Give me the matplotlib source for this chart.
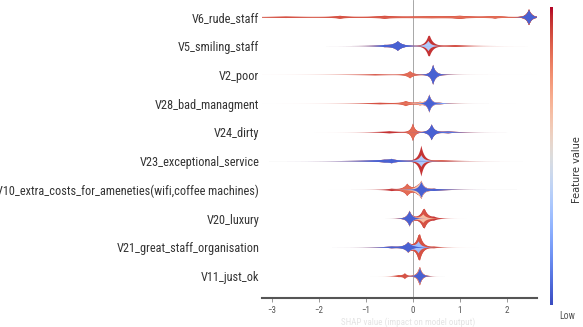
import numpy as np
import matplotlib
matplotlib.use("Agg")
import matplotlib.pyplot as plt

features = ["V6_rude_staff", "V5_smiling_staff", "V2_poor", "V28_bad_managment",
            "V24_dirty", "V23_exceptional_service",
            "V10_extra_costs_for_ameneties(wifi,coffee machines)",
            "V20_luxury", "V21_great_staff_organisation", "V11_just_ok"]
xticks = [-3, -2, -1, 0, 1, 2]

# density components: feature index, SHAP centre, spread, half-height, feature value
comp_feature = [0, 0, 0, 0, 0, 0, 0, 0,
                 1, 1, 1, 1, 1,
                 2, 2, 2, 2,
                 3, 3, 3, 3, 3,
                 4, 4, 4, 4,
                 5, 5, 5, 5, 5,
                 6, 6, 6, 6, 6,
                 7, 7, 7, 7,
                 8, 8, 8, 8, 8,
                 9, 9, 9, 9]
comp_mu = [0.0, -2.7, -1.55, -0.6, 0.4, 1.0, 1.75, 2.47,
           -0.32, -0.6, 0.33, 0.36, 0.9,
           -0.06, -0.8, 0.43, 0.5,
           -0.15, -0.7, 0.35, 0.55, 0.15,
           0.0, -0.5, 0.4, 0.75,
           -0.6, -0.45, 0.18, 0.18, 0.6,
           -0.12, -0.45, 0.18, 0.45, 0.1,
           -0.07, 0.25, 0.22, 0.45,
           -0.1, -0.45, 0.12, 0.15, 0.45,
           -0.17, -0.3, 0.15, 0.13]
comp_spread = [2.5, 0.5, 0.15, 0.2, 0.6, 0.2, 0.2, 0.06,
               0.1, 0.2, 0.06, 0.08, 0.25,
               0.08, 0.5, 0.05, 0.15,
               0.1, 0.4, 0.05, 0.15, 0.1,
               0.05, 0.25, 0.06, 0.2,
               0.35, 0.1, 0.06, 0.07, 0.25,
               0.08, 0.15, 0.06, 0.2, 0.1,
               0.06, 0.08, 0.07, 0.1,
               0.08, 0.2, 0.06, 0.07, 0.15,
               0.05, 0.08, 0.05, 0.06]
comp_height = [0.02, 0.02, 0.04, 0.035, 0.02, 0.035, 0.03, 0.27,
               0.16, 0.03, 0.18, 0.25, 0.03,
               0.12, 0.025, 0.33, 0.03,
               0.08, 0.03, 0.30, 0.03, 0.05,
               0.30, 0.04, 0.27, 0.035,
               0.04, 0.05, 0.20, 0.33, 0.03,
               0.20, 0.04, 0.27, 0.035, 0.08,
               0.27, 0.24, 0.15, 0.05,
               0.17, 0.03, 0.20, 0.33, 0.03,
               0.10, 0.03, 0.28, 0.06]
comp_value = [0.9, 0.9, 0.9, 0.9, 0.85, 0.85, 0.85, 0.05,
              0.05, 0.05, 0.35, 0.95, 0.9,
              0.85, 0.9, 0.05, 0.1,
              0.85, 0.9, 0.05, 0.2, 0.7,
              0.85, 0.95, 0.05, 0.1,
              0.05, 0.05, 0.35, 0.95, 0.85,
              0.85, 0.95, 0.05, 0.05, 0.6,
              0.05, 0.9, 0.65, 0.95,
              0.05, 0.05, 0.3, 0.9, 0.9,
              0.9, 0.9, 0.05, 0.75]

NARROW = ["Roboto Condensed", "Archivo Narrow", "DejaVu Sans"]
plt.rcParams["font.family"] = NARROW

cmap = plt.get_cmap("coolwarm")

fig = plt.figure(figsize=(5.83, 3.27), dpi=100)
ax = fig.add_axes([262/583, (327-298)/327, (537-262)/583, 298/327])

n = len(features)
xs = np.linspace(-3.25, 2.7, 3000)
ax.axvline(0, color="#999999", lw=0.6, zorder=0)

cf = np.array(comp_feature)
cm = np.array(comp_mu)
cs = np.array(comp_spread)
ch = np.array(comp_height)
cv = np.array(comp_value)
for fi in range(n):
    pos = n - 1 - fi
    idx = np.where(cf == fi)[0]
    idx = idx[np.argsort(cv[idx])]
    dens = [ch[i] * np.exp(-np.abs(xs - cm[i]) / cs[i]) for i in idx]
    cum = np.cumsum(dens, axis=0)
    for k in range(len(idx) - 1, -1, -1):
        y = cum[k]
        ax.fill_between(xs, pos - y, pos + y, facecolor=cmap(cv[idx[k]]),
                        edgecolor="none", lw=0, zorder=2)

ax.set_xlim(-3.21, 2.64)
ax.set_ylim(-0.76, n - 1 + 0.6)
ax.set_yticks(range(n))
ax.set_yticklabels(features[::-1])
ax.set_xticks(xticks)
ax.set_xticklabels([str(t).replace("-", "\u2212") for t in xticks])
for s in ["top", "right", "left"]:
    ax.spines[s].set_visible(False)
ax.spines["bottom"].set_color("#555555")
ax.spines["bottom"].set_linewidth(1.5)
ax.tick_params(axis="y", length=0, pad=2, labelsize=8.8, labelcolor="#333333")
ax.tick_params(axis="x", length=3, width=0.6, color="#888888", labelsize=6.5,
               labelcolor="#555555", pad=3)

fig.text(408/583, 0.0, "SHAP value (impact on model output)", ha="center",
         va="bottom", fontsize=6.5, color="#e4e4e4")

cax = fig.add_axes([550/583, (327-305)/327, 3/583, 298/327])
grad = np.linspace(1, 0, 256).reshape(-1, 1)
cax.imshow(grad, aspect="auto", cmap=cmap, extent=[0, 1, 0, 1])
cax.set_axis_off()
fig.text(577/583, 0.48, "Feature value", rotation=90, ha="center", va="center",
         fontsize=7, color="#333333", family=["DejaVu Sans"])
fig.text(567/583, 11/327, "Low", ha="center", va="center", fontsize=7,
         color="#555555")

fig.savefig("out.png", dpi=100)
